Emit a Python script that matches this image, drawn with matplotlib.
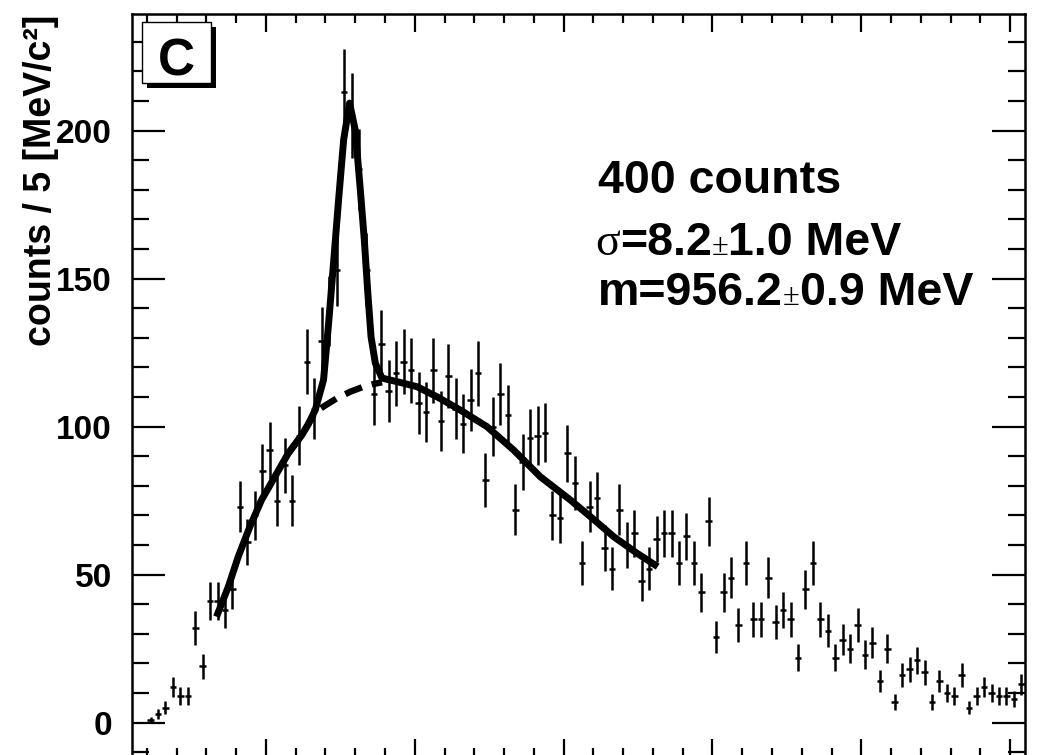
import numpy as np
import matplotlib
matplotlib.use("Agg")
import matplotlib.pyplot as plt
from matplotlib.patches import Rectangle
from matplotlib.ticker import MultipleLocator

# histogram: 5 MeV bins from 810 to 1410 MeV
mass_lo = 810
mass_hi = 1410
bin_width = 5
counts = [0, 0, 1, 3, 5, 12, 9, 9, 32, 19,
          41, 41, 38, 45, 73, 61, 70, 85, 92, 75,
          87, 75, 97, 122, 106, 129, 139, 153, 213, 205,
          187, 153, 111, 128, 112, 118, 122, 119, 108, 105,
          119, 102, 117, 106, 101, 109, 118, 82, 100, 111,
          104, 72, 88, 96, 97, 98, 70, 69, 91, 81,
          54, 73, 76, 59, 52, 72, 60, 64, 48, 52,
          62, 64, 64, 54, 63, 54, 44, 68, 29, 44,
          49, 33, 54, 35, 35, 49, 34, 38, 35, 22,
          45, 54, 35, 31, 22, 28, 25, 33, 23, 27,
          14, 25, 7, 16, 18, 21, 17, 7, 14, 10,
          9, 16, 5, 9, 12, 10, 9, 9, 8, 13]

# fit curve (signal + background)
fit_x = [866.8, 874.7, 881.4, 889.2, 897.0, 906.0, 915.0, 923.9, 928.4, 933.1,
         938.7, 942.1, 945.4, 948.8, 952.2, 956.2, 960.0, 963.4, 966.1, 968.3,
         970.6, 973.5, 978.0, 988.0, 1001.5, 1014.9, 1030.6, 1048.5, 1066.4,
         1084.3, 1104.6, 1118.0, 1133.7, 1149.4, 1163.2]
fit_y = [35.8, 45.9, 56.1, 66.2, 75.2, 83.1, 91.0, 97.0, 100.8, 105.6,
         115.8, 134.9, 155.2, 176.6, 196.9, 209.3, 200.2, 180.0, 163.0, 146.2,
         130.4, 121.4, 116.4, 115.2, 113.5, 110.1, 105.6, 100.0, 92.1,
         83.1, 75.2, 69.6, 62.8, 57.2, 52.7]

# background only (dashed)
bkg_x = [915.0, 923.9, 933.1, 938.7, 947.7, 956.7, 965.6, 972.3, 978.0]
bkg_y = [91.0, 97.0, 104.8, 106.8, 109.6, 111.8, 113.5, 114.4, 115.0]

plt.rcParams["font.family"] = ["Liberation Sans", "DejaVu Sans"]
plt.rcParams["font.weight"] = "bold"

W, H = 1059, 755
fig = plt.figure(figsize=(W / 100, H / 100), dpi=100)

def fx(px):
    return px / W

def fy(py):
    return 1 - py / H

ax = fig.add_axes([fx(132), fy(757), (1025 - 132) / W, (757 - 14) / H])

counts = np.array(counts, dtype=float)
centers = np.arange(mass_lo + bin_width / 2, mass_hi, bin_width)
m = counts > 0
ax.errorbar(centers[m], counts[m], yerr=np.sqrt(counts[m]), xerr=2.2,
            fmt="none", ecolor="black", elinewidth=1.8, capsize=0)
ax.plot(bkg_x, bkg_y, color="black", lw=4.6, linestyle=(0, (2.8, 1.6)))
ax.plot(fit_x, fit_y, color="black", lw=5, solid_capstyle="butt",
        solid_joinstyle="round")

ax.set_xlim(mass_lo, mass_hi)
ax.set_ylim(-11.6, 239.4)
ax.xaxis.set_major_locator(MultipleLocator(100))
ax.xaxis.set_minor_locator(MultipleLocator(20))
ax.yaxis.set_major_locator(MultipleLocator(50))
ax.yaxis.set_minor_locator(MultipleLocator(10))
ax.tick_params(which="both", direction="in", top=True, right=True,
               labelbottom=False, width=1.6, color="black")
ax.tick_params(axis="x", which="major", length=13)
ax.tick_params(axis="x", which="minor", length=6.5)
ax.tick_params(axis="y", which="major", length=23.8, pad=14.4, labelsize=24)
ax.tick_params(axis="y", which="minor", length=12.2)
for s in ax.spines.values():
    s.set_linewidth(1.8)

fig.text(fx(41), fy(15), "counts / 5 [MeV/c²]", rotation=90, ha="center",
         va="top", fontsize=27, fontweight="bold")

# "C" panel label with shadow
fig.add_artist(Rectangle((fx(147), fy(88.3)), (215.7 - 147) / W, (88.3 - 27) / H,
                         facecolor="black", edgecolor="none",
                         transform=fig.transFigure, zorder=5))
fig.add_artist(Rectangle((fx(141.7), fy(82.7)), 69 / W, 61 / H,
                         facecolor="white", edgecolor="black", lw=1,
                         transform=fig.transFigure, zorder=6))
fig.text(fx(176.5), fy(75), "C", ha="center", va="baseline", fontsize=37,
         fontweight="bold", zorder=7)

bold = dict(fontsize=33.5, fontweight="bold", family=["Liberation Sans"])
serif = dict(fontsize=33, fontweight="normal", family=["Liberation Serif"])
pm = dict(fontsize=22, fontweight="normal", family=["Liberation Serif"])

def chain(parts, x0, y0):
    prev = None
    for s, kw in parts:
        if prev is None:
            prev = fig.text(fx(x0), fy(y0), s, va="baseline", ha="left", **kw)
        else:
            prev = ax.annotate(s, xy=(1, H - y0), xycoords=(prev, "figure pixels"),
                               va="baseline", ha="left", **kw)

chain([("400 counts", bold)], 598, 193)
chain([("σ", serif), ("=8.2", bold), ("±", pm), ("1.0 MeV", bold)], 595, 255)
chain([("m=956.2", bold), ("±", pm), ("0.9 MeV", bold)], 598, 305)

fig.savefig("out.png", dpi=100)
